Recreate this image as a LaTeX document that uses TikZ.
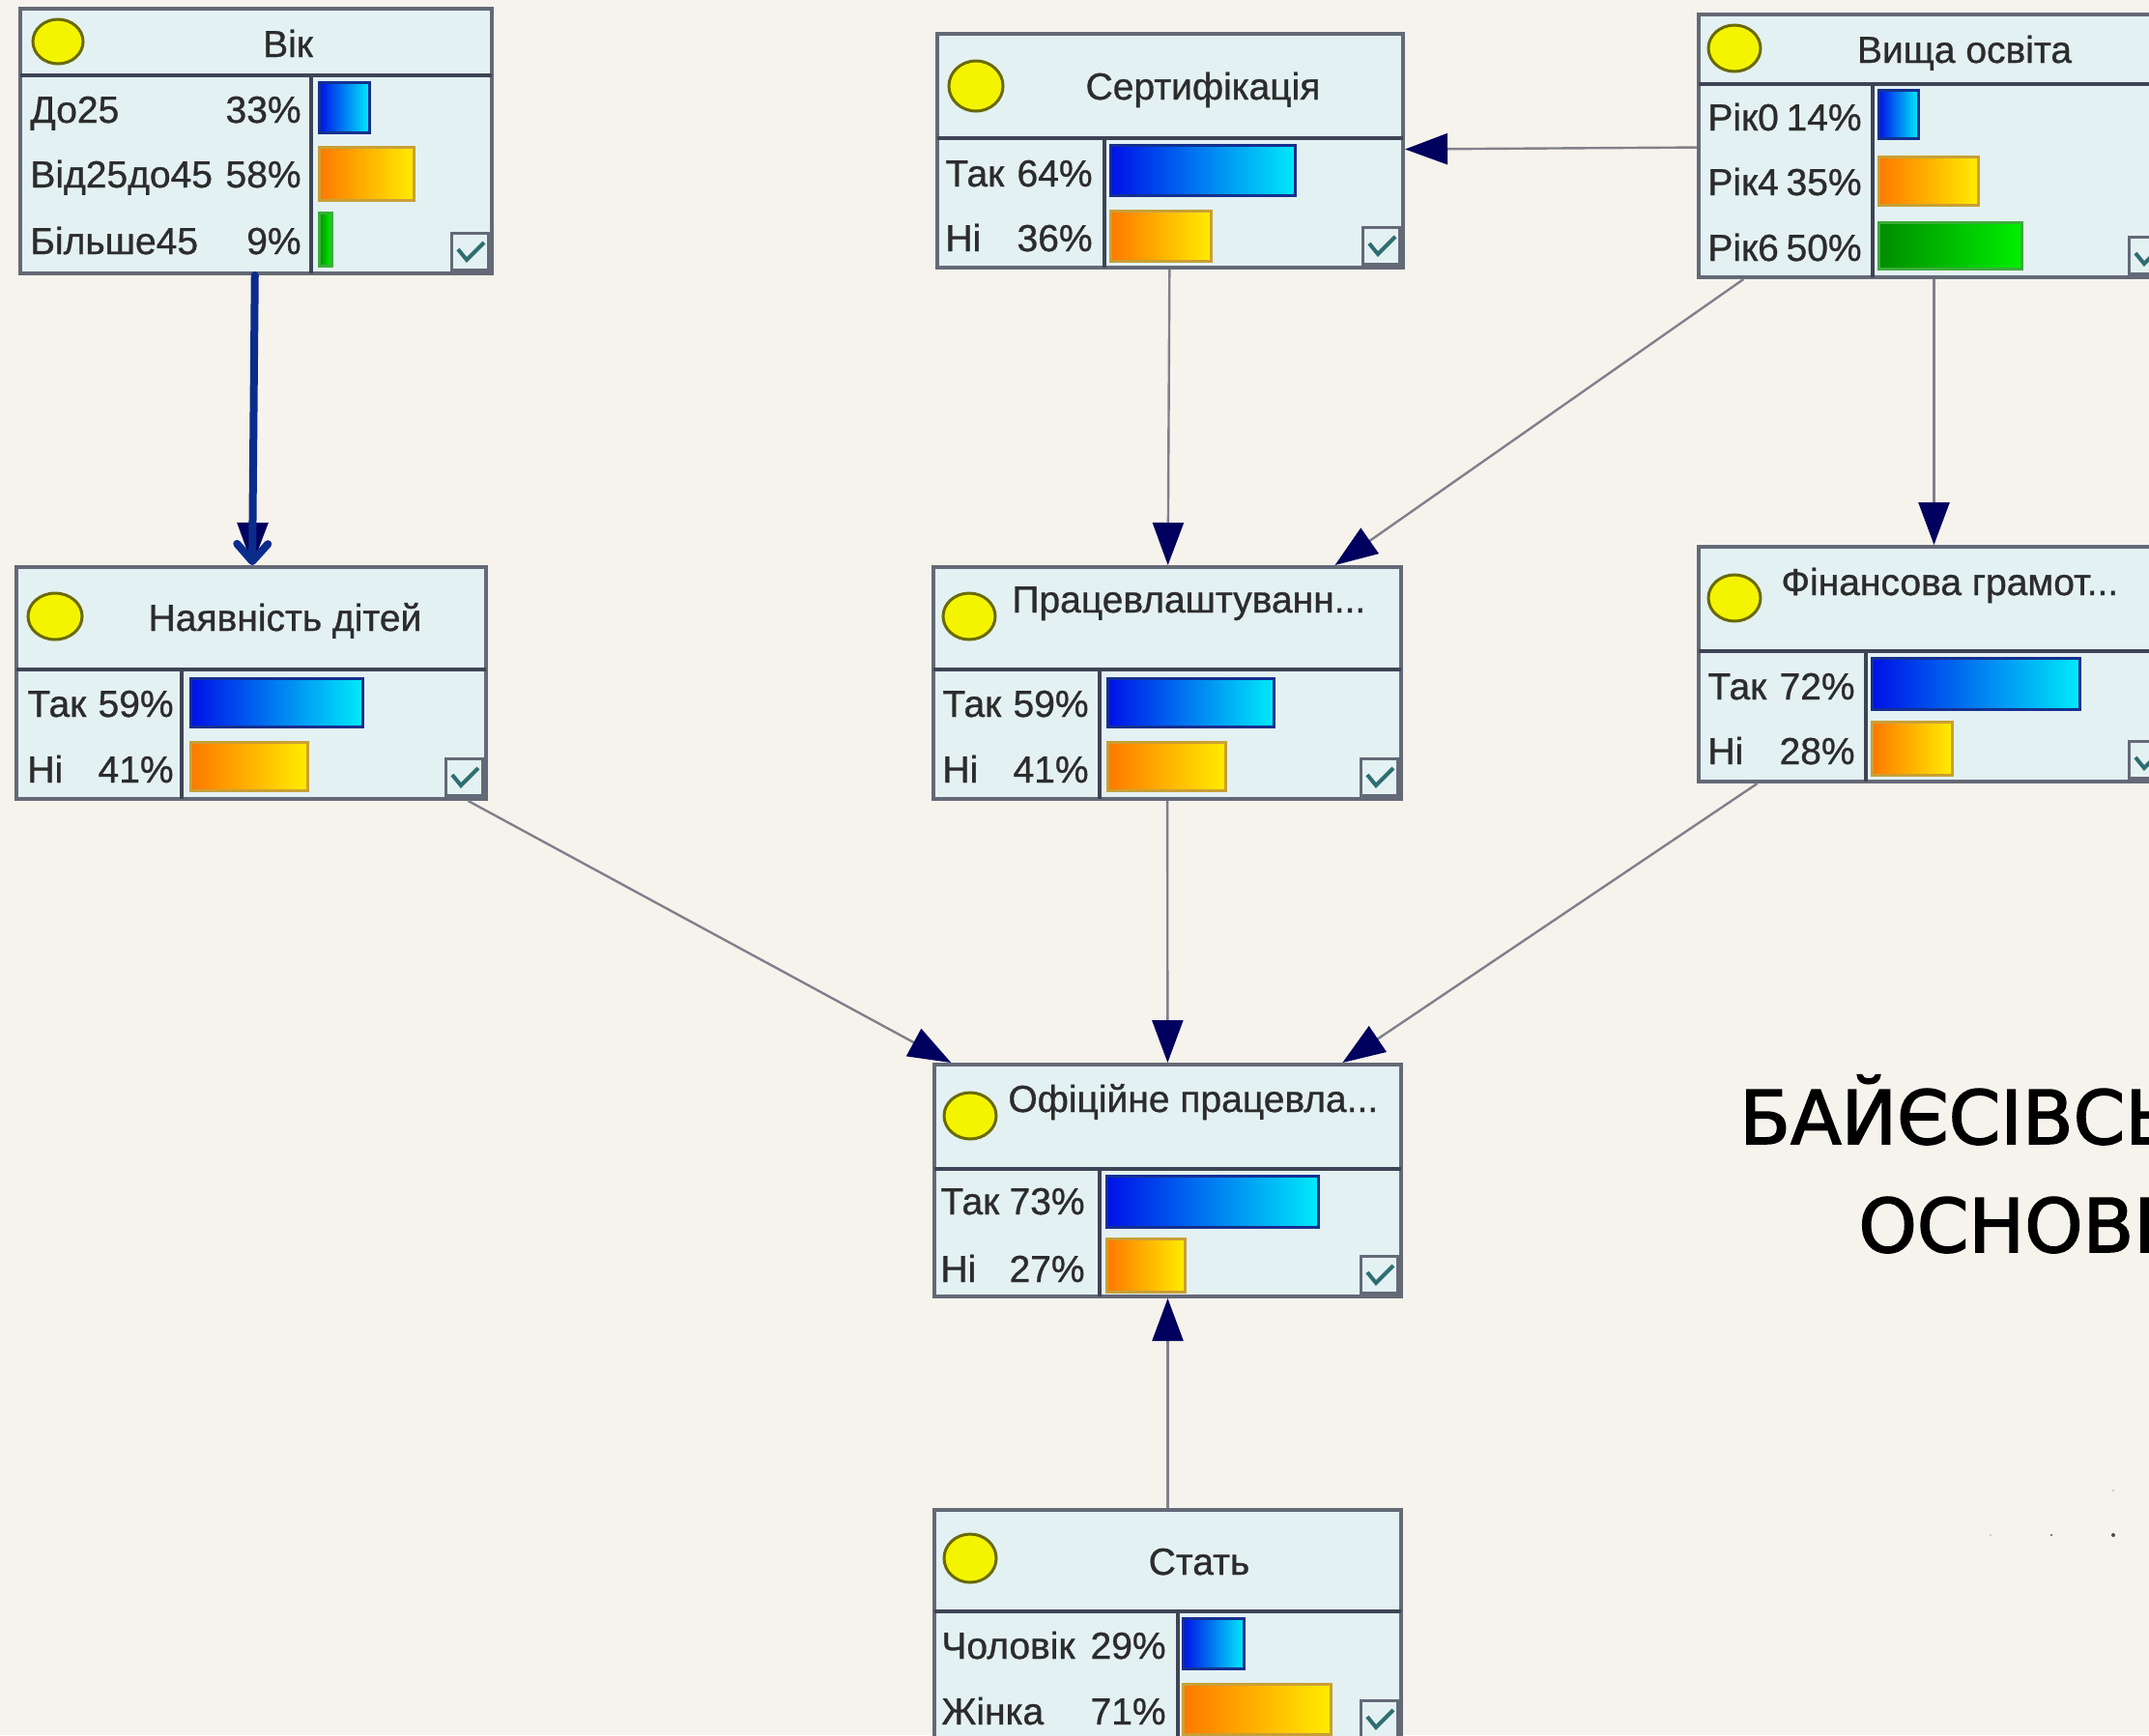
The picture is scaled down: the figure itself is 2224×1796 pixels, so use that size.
\documentclass[tikz,border=0pt]{standalone}
\usepackage{fontspec}
\setmainfont{Liberation Sans}[FakeBold=0.8]
\newfontfamily\grand{DejaVu Sans}[FakeBold=2]
\usetikzlibrary{fit,arrows.meta}
\definecolor{fond}{HTML}{F6F3EC}
\definecolor{cellule}{HTML}{E4F1F3}
\definecolor{cadre}{HTML}{646977}
\definecolor{trait}{HTML}{3E4455}
\definecolor{fleche}{HTML}{00005E}
\definecolor{liengris}{HTML}{80808C}
\definecolor{choix}{HTML}{0C2C8C}
\definecolor{texte}{HTML}{2C2C2C}
\definecolor{jaune}{HTML}{F4F400}
\definecolor{bordjaune}{HTML}{6A6A05}
\definecolor{bleuA}{HTML}{0010E8}
\definecolor{bleuB}{HTML}{00EAFA}
\definecolor{bleuC}{HTML}{14308F}
\definecolor{orA}{HTML}{FF7800}
\definecolor{orB}{HTML}{FFEC00}
\definecolor{orC}{HTML}{C9A035}
\definecolor{vertA}{HTML}{008C00}
\definecolor{vertB}{HTML}{00F000}
\definecolor{vertC}{HTML}{3AAE3A}
\definecolor{coche}{HTML}{2E6E70}
\tikzset{
    noeud/.style={draw=cadre, line width=2pt, fill=cellule, inner sep=0pt},
    sep/.style={draw=trait, line width=2pt},
    rond/.style={draw=bordjaune, fill=jaune, line width=1.5pt},
    titre/.style={text=texte, font=\fontsize{19.5}{22}\selectfont, inner sep=0pt, anchor=base},
    etiq/.style={titre, anchor=base west},
    pct/.style={titre, anchor=base east},
    barbleu/.style={left color=bleuA, right color=bleuB, draw=bleuC, line width=1.5pt},
    baror/.style={left color=orA, right color=orB, draw=orC, line width=1.5pt},
    barvert/.style={left color=vertA, right color=vertB, draw=vertC, line width=1.5pt},
    lien/.style={draw=liengris, line width=1.2pt, -{Triangle[length=22pt, width=16pt, color=fleche]}},
    choisi/.style={draw=choix, line width=4pt, line cap=round, -{Straight Barb[length=9pt, width=16pt, round]}},
    chk/.pic={
      \draw[draw=cadre, line width=1.5pt, fill=cellule] (-19,-19) rectangle (19,19);
      \draw[draw=coche, line width=2pt] (-12,-2) -- (-3,9) -- (15,-9);
    },
  }
\begin{document}
\begin{tikzpicture}[x=0.5pt,y=-0.5pt]
				  \path[use as bounding box] (0,0) rectangle (2224,1796);
				  \clip (0,0) rectangle (2224,1796);
				  \fill[fond] (0,0) rectangle (2224,1796);

				  %VIK
				  \node[noeud, fit={(21,9) (509,283)}] (vik) {};
				  \draw[sep] (21,78) -- (509,78);
				  \draw[sep] (322,78) -- (322,283);
				  \draw[rond] (60,43) ellipse [x radius=26, y radius=23];
				  \node[titre] (tvik) at (298,59) {Вік};
				  \node[etiq] (vik1) at (31,127) {До25};
				  \node[pct] (vik1p) at (312,127) {33\%};
				  \node[etiq] (vik2) at (31,194) {Від25до45};
				  \node[pct] (vik2p) at (312,194) {58\%};
				  \node[etiq] (vik3) at (31,263) {Більше45};
				  \node[pct] (vik3p) at (312,263) {9\%};
				  \draw[barbleu] (330,85) rectangle (382,137);
				  \draw[baror] (330,152) rectangle (428,207);
				  \draw[barvert] (330,220) rectangle (343,275);
				  \pic (cvik) at (486,260) {chk};

				  %SERTYFIKACIA
				  \node[noeud, fit={(970,35) (1452,277)}] (sert) {};
				  \draw[sep] (970,143) -- (1452,143);
				  \draw[sep] (1143,143) -- (1143,277);
				  \draw[rond] (1010,89) ellipse [x radius=28, y radius=26];
				  \node[titre] (tsert) at (1245,103) {Сертифікація};
				  \node[etiq] (sert1) at (978,193) {Так};
				  \node[pct] (sert1p) at (1131,193) {64\%};
				  \node[etiq] (sert2) at (978,260) {Ні};
				  \node[pct] (sert2p) at (1131,260) {36\%};
				  \draw[barbleu] (1149,150) rectangle (1340,202);
				  \draw[baror] (1149,218) rectangle (1253,270);
				  \pic (csert) at (1429,254) {chk};

				  %OSVITA
				  \node[noeud, fit={(1758,15) (2245,287)}] (osv) {};
				  \draw[sep] (1758,87) -- (2245,87);
				  \draw[sep] (1938,87) -- (1938,287);
				  \draw[rond] (1795,50) ellipse [x radius=27, y radius=24];
				  \node[titre] (tosv) at (2033,65) {Вища освіта};
				  \node[etiq] (osv1) at (1767,135) {Рік0};
				  \node[pct] (osv1p) at (1927,135) {14\%};
				  \node[etiq] (osv2) at (1767,202) {Рік4};
				  \node[pct] (osv2p) at (1927,202) {35\%};
				  \node[etiq] (osv3) at (1767,270) {Рік6};
				  \node[pct] (osv3p) at (1927,270) {50\%};
				  \draw[barbleu] (1944,93) rectangle (1985,143);
				  \draw[baror] (1944,162) rectangle (2047,212);
				  \draw[barvert] (1944,230) rectangle (2092,278);
				  \pic (cosv) at (2222,264) {chk};

				  %DITY
				  \node[noeud, fit={(17,587) (503,827)}] (dity) {};
				  \draw[sep] (17,693) -- (503,693);
				  \draw[sep] (188,693) -- (188,827);
				  \draw[rond] (57,638) ellipse [x radius=28, y radius=24];
				  \node[titre] (tdity) at (295,653) {Наявність дітей};
				  \node[etiq] (dity1) at (28,742) {Так};
				  \node[pct] (dity1p) at (180,742) {59\%};
				  \node[etiq] (dity2) at (28,810) {Ні};
				  \node[pct] (dity2p) at (180,810) {41\%};
				  \draw[barbleu] (197,702) rectangle (375,752);
				  \draw[baror] (197,768) rectangle (318,818);
				  \pic (cdity) at (480,804) {chk};

				  %PRACEVLASHTUVANNIA
				  \node[noeud, fit={(966,587) (1450,827)}] (prac) {};
				  \draw[sep] (966,693) -- (1450,693);
				  \draw[sep] (1138,693) -- (1138,827);
				  \draw[rond] (1003,638) ellipse [x radius=27, y radius=24];
				  \node[etiq] (tprac) at (1047,634) {Працевлаштуванн...};
				  \node[etiq] (prac1) at (975,742) {Так};
				  \node[pct] (prac1p) at (1127,742) {59\%};
				  \node[etiq] (prac2) at (975,810) {Ні};
				  \node[pct] (prac2p) at (1127,810) {41\%};
				  \draw[barbleu] (1146,702) rectangle (1318,752);
				  \draw[baror] (1146,768) rectangle (1268,818);
				  \pic (cprac) at (1427,804) {chk};

				  %FINANSOVA
				  \node[noeud, fit={(1758,566) (2245,809)}] (fin) {};
				  \draw[sep] (1758,674) -- (2245,674);
				  \draw[sep] (1931,674) -- (1931,809);
				  \draw[rond] (1795,619) ellipse [x radius=27, y radius=24];
				  \node[etiq] (tfin) at (1843,616) {Фінансова грамот...};
				  \node[etiq] (fin1) at (1767,724) {Так};
				  \node[pct] (fin1p) at (1920,724) {72\%};
				  \node[etiq] (fin2) at (1767,791) {Ні};
				  \node[pct] (fin2p) at (1920,791) {28\%};
				  \draw[barbleu] (1937,681) rectangle (2152,734);
				  \draw[baror] (1937,747) rectangle (2020,802);
				  \pic (cfin) at (2222,786) {chk};

				  %OFICIJNE
				  \node[noeud, fit={(967,1102) (1450,1342)}] (ofic) {};
				  \draw[sep] (967,1210) -- (1450,1210);
				  \draw[sep] (1138,1210) -- (1138,1342);
				  \draw[rond] (1004,1155) ellipse [x radius=27, y radius=24];
				  \node[etiq] (tofic) at (1043,1151) {Офіційне працевла...};
				  \node[etiq] (ofic1) at (973,1257) {Так};
				  \node[pct] (ofic1p) at (1123,1257) {73\%};
				  \node[etiq] (ofic2) at (973,1327) {Ні};
				  \node[pct] (ofic2p) at (1123,1327) {27\%};
				  \draw[barbleu] (1145,1217) rectangle (1364,1270);
				  \draw[baror] (1145,1282) rectangle (1226,1337);
				  \pic (cofic) at (1427,1319) {chk};

				  %STAT
				  \node[noeud, fit={(967,1563) (1450,1802)}] (stat) {};
				  \draw[sep] (967,1668) -- (1450,1668);
				  \draw[sep] (1219,1668) -- (1219,1802);
				  \draw[rond] (1004,1613) ellipse [x radius=27, y radius=25];
				  \node[titre] (tstat) at (1241,1630) {Стать};
				  \node[etiq] (stat1) at (974,1717) {Чоловік};
				  \node[pct] (stat1p) at (1207,1717) {29\%};
				  \node[etiq] (stat2) at (974,1785) {Жінка};
				  \node[pct] (stat2p) at (1207,1785) {71\%};
				  \draw[barbleu] (1224,1675) rectangle (1287,1727);
				  \draw[baror] (1224,1743) rectangle (1377,1795);
				  \pic (cstat) at (1427,1779) {chk};

				  %ARCS
				  \draw[lien] (osv) -- (sert);
				  \draw[lien] (sert) -- (prac);
				  \draw[lien] (osv) -- (prac);
				  \draw[lien] (osv) -- (fin);
				  \draw[lien] (vik) -- (dity);
				  \draw[choisi] (vik) -- (dity);
				  \draw[lien] (dity) -- (ofic);
				  \draw[lien] (prac) -- (ofic);
				  \draw[lien] (fin) -- (ofic);
				  \draw[lien] (stat) -- (ofic);

				  %TITRE
				  \node[text=black, font=\grand\fontsize{38.4}{46}\selectfont, inner sep=0pt, anchor=base west] (titre1) at (1800,1184) {БАЙЄСІВСЬКА};
				  \node[text=black, font=\grand\fontsize{38.4}{46}\selectfont, inner sep=0pt, anchor=base west] (titre2) at (1923,1296) {ОСНОВІ};

				  %POINTS
				  \fill[black!70] (2060,1589) circle (0.6);
				  \fill[black!70] (2123,1589) circle (1.2);
				  \fill[black!70] (2187,1589) circle (2);
				  \fill[black!70] (2187,1543) circle (0.7);
\end{tikzpicture}
\end{document}
